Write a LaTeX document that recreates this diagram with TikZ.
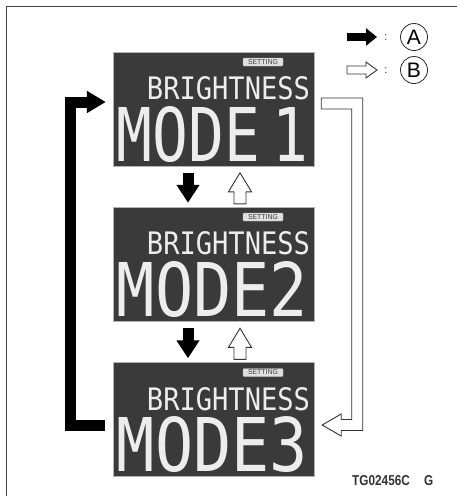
\documentclass[tikz,border=0pt]{standalone}
\usepackage{fontspec}
\setmainfont{Liberation Sans}
\newfontfamily\lcdfont{DejaVu Sans Mono}
\usetikzlibrary{positioning,arrows.meta,calc}
\definecolor{lcdbg}{HTML}{3A3A3A}
\definecolor{lcdfg}{HTML}{EDEDED}

\tikzset{
  lcd/.style={draw=gray!60,fill=lcdbg,minimum width=201pt,minimum height=114pt,inner sep=0pt},
  badge/.style={draw=gray!55,fill=gray!25,rounded corners=1pt,minimum width=40pt,minimum height=8pt,inner sep=0pt,text=black!75},
  lcdtext/.style={inner sep=0pt,text=lcdfg},
  solidarrow/.style={line width=11pt,black,line join=miter,-{Triangle[width=22pt,length=18pt]}},
  hollow/.style={draw=black!80,fill=white,line width=0.9pt,line join=miter},
  hollowup/.pic={\path[hollow] (-6,0) -- (-6,-12) -- (-11.5,-12) -- (0,-31) -- (11.5,-12) -- (6,-12) -- (6,0) -- cycle;},
  keyletter/.style={circle,draw=black!85,line width=0.8pt,minimum size=27pt,inner sep=0pt,font=\fontsize{21}{21}\selectfont},
  keycolon/.style={font=\fontsize{11}{11}\selectfont,text=black!80,inner sep=0pt},
}

\begin{document}
\begin{tikzpicture}[x=1pt,y=-1pt]
\useasboundingbox (0,0) rectangle (457,496);
% frame, only its left and top edges show
\draw[black!75,line width=1.3pt] (6.5,496) -- (6.5,6.5) -- (457,6.5);
% the three displays
\node[lcd] (d1) at (213.5,109) {};
\node[lcd] (d2) at (213.5,264) {};
\node[lcd] (d3) at (213.5,419.5) {};
% display contents
\node[badge,anchor=north east] (s1) at ($(d1.north east)+(-31,6)$) {\resizebox{30pt}{5pt}{SETTING}};
\node[lcdtext,anchor=east] (b1) at ($(d1.north east)+(-4,36.5)$) {\resizebox{163pt}{23pt}{\lcdfont BRIGHTNESS}};
\node[lcdtext,anchor=east] (m1) at ($(d1.north east)+(-6,82.5)$) {\resizebox{191pt}{55pt}{\lcdfont MODE\kern0.2em1}};
\node[badge,anchor=north east] (s2) at ($(d2.north east)+(-31,6)$) {\resizebox{30pt}{5pt}{SETTING}};
\node[lcdtext,anchor=east] (b2) at ($(d2.north east)+(-4,36.5)$) {\resizebox{163pt}{23pt}{\lcdfont BRIGHTNESS}};
\node[lcdtext,anchor=east] (m2) at ($(d2.north east)+(-6,82.5)$) {\resizebox{191pt}{55pt}{\lcdfont MODE2}};
\node[badge,anchor=north east] (s3) at ($(d3.north east)+(-31,6)$) {\resizebox{30pt}{5pt}{SETTING}};
\node[lcdtext,anchor=east] (b3) at ($(d3.north east)+(-4,36.5)$) {\resizebox{163pt}{23pt}{\lcdfont BRIGHTNESS}};
\node[lcdtext,anchor=east] (m3) at ($(d3.north east)+(-6,82.5)$) {\resizebox{191pt}{55pt}{\lcdfont MODE3}};
% A: step down
\draw[solidarrow] ($(d1.south)+(-25.5,7)$) -- ($(d2.north)+(-25.5,-4)$);
\draw[solidarrow] ($(d2.south)+(-25.5,7)$) -- ($(d3.north)+(-25.5,-4)$);
\draw[solidarrow,-{Triangle[width=21pt,length=19pt]}] ($(d3.west)+(-8,5.5)$) -| ($(d1.west)+(-42,-7)$) -- ($(d1.west)+(-7,-7)$);
% B: step up
\pic at ($(d2.north)+(26.5,-3)$) {hollowup};
\pic at ($(d3.north)+(26.5,-3)$) {hollowup};
\path[hollow] ($(d1.east)+(7,-11)$) -- ++(41.5,0) -- ($(d3.east)+(48.5,11)$) -- ++(-21.5,0) -- ++(0,5.5)
  -- ++(-19,-11) -- ++(19,-11) -- ++(0,5.5) -- ++(10.5,0) -- ($(d1.east)+(37.5,0)$) -- ++(-30.5,0) -- cycle;
% key
\draw[solidarrow,line width=8pt,-{Triangle[width=17pt,length=11pt]}] (347,37) -- (377,37);
\path[hollow] (347,66) -- ++(19,0) -- ++(0,-4) -- ++(11,8) -- ++(-11,8) -- ++(0,-4) -- ++(-19,0) -- cycle;
\node[keycolon] (c1) at (386,38) {:};
\node[keycolon] (c2) at (386,71) {:};
\node[keyletter] (ka) at (414,37) {A};
\node[keyletter] (kb) at (414,70) {B};
% figure code
\node[anchor=west,inner sep=0pt,text=black!80] (code) at (352,481) {\resizebox{81pt}{10pt}{\bfseries TG02456C\hspace{1.2em}G}};
\end{tikzpicture}
\end{document}
